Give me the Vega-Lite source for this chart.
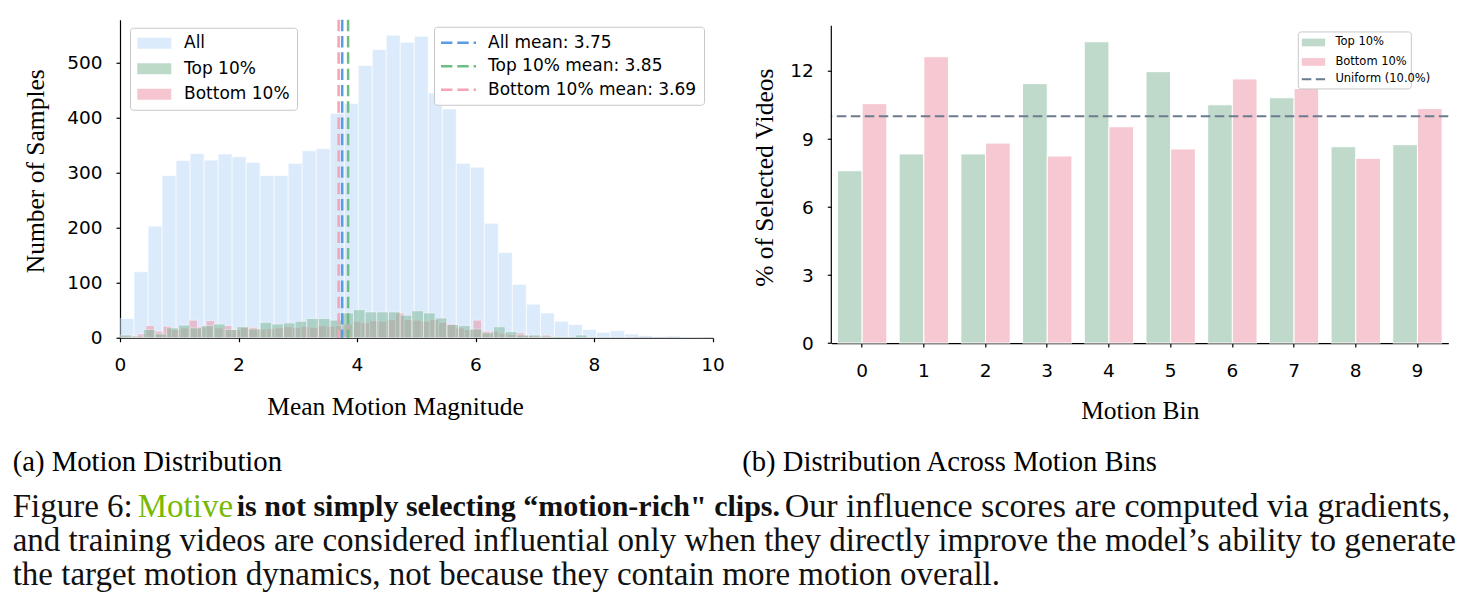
{
  "$schema": "https://vega.github.io/schema/vega-lite/v6.json",
  "background": "white",
  "padding": {"left": 12, "top": 17.75, "right": 4, "bottom": 4},
  "autosize": {"type": "pad"},
  "spacing": 118.3,
  "bounds": "flush",
  "align": "none",
  "config": {
    "view": {"stroke": null},
    "axis": {
      "domainColor": "#000000", "domainWidth": 1.2,
      "tickColor": "#000000", "tickWidth": 1.2, "tickSize": 4,
      "labelFont": "DejaVu Sans", "labelFontSize": 18.5, "labelColor": "#000000", "labelPadding": 14,
      "labelFlush": false, "labelOverlap": false,
      "titleFont": "Liberation Serif", "titleFontSize": 25.5, "titleFontWeight": "normal", "titleColor": "#000000",
      "grid": false
    },
    "legend": {"labelFont": "DejaVu Sans", "labelColor": "#000000", "labelLimit": 400, "titleFont": "DejaVu Sans", "titleLimit": 400, "direction": "vertical"}
  },
  "datasets": {
    "hist": [
      {"group": "All", "start": 0, "end": 0.2365, "count": 35},
      {"group": "All", "start": 0.2365, "end": 0.473, "count": 120},
      {"group": "All", "start": 0.473, "end": 0.7095, "count": 203},
      {"group": "All", "start": 0.7095, "end": 0.946, "count": 295},
      {"group": "All", "start": 0.946, "end": 1.1825, "count": 322},
      {"group": "All", "start": 1.1825, "end": 1.419, "count": 335},
      {"group": "All", "start": 1.419, "end": 1.6555, "count": 323},
      {"group": "All", "start": 1.6555, "end": 1.892, "count": 334},
      {"group": "All", "start": 1.892, "end": 2.1285, "count": 329},
      {"group": "All", "start": 2.1285, "end": 2.365, "count": 319},
      {"group": "All", "start": 2.365, "end": 2.6015, "count": 295},
      {"group": "All", "start": 2.6015, "end": 2.838, "count": 295},
      {"group": "All", "start": 2.838, "end": 3.0745, "count": 317},
      {"group": "All", "start": 3.0745, "end": 3.311, "count": 340},
      {"group": "All", "start": 3.311, "end": 3.5475, "count": 344},
      {"group": "All", "start": 3.5475, "end": 3.784, "count": 408},
      {"group": "All", "start": 3.784, "end": 4.0205, "count": 426},
      {"group": "All", "start": 4.0205, "end": 4.257, "count": 495},
      {"group": "All", "start": 4.257, "end": 4.4935, "count": 524},
      {"group": "All", "start": 4.4935, "end": 4.73, "count": 550},
      {"group": "All", "start": 4.73, "end": 4.9665, "count": 537},
      {"group": "All", "start": 4.9665, "end": 5.203, "count": 548},
      {"group": "All", "start": 5.203, "end": 5.4395, "count": 445},
      {"group": "All", "start": 5.4395, "end": 5.676, "count": 416},
      {"group": "All", "start": 5.676, "end": 5.9125, "count": 317},
      {"group": "All", "start": 5.9125, "end": 6.149, "count": 310},
      {"group": "All", "start": 6.149, "end": 6.3855, "count": 208},
      {"group": "All", "start": 6.3855, "end": 6.622, "count": 155},
      {"group": "All", "start": 6.622, "end": 6.8585, "count": 97},
      {"group": "All", "start": 6.8585, "end": 7.095, "count": 61},
      {"group": "All", "start": 7.095, "end": 7.3315, "count": 45},
      {"group": "All", "start": 7.3315, "end": 7.568, "count": 30},
      {"group": "All", "start": 7.568, "end": 7.8045, "count": 24},
      {"group": "All", "start": 7.8045, "end": 8.041, "count": 15},
      {"group": "All", "start": 8.041, "end": 8.2775, "count": 10},
      {"group": "All", "start": 8.2775, "end": 8.514, "count": 13},
      {"group": "All", "start": 8.514, "end": 8.7505, "count": 7},
      {"group": "All", "start": 8.7505, "end": 8.987, "count": 4},
      {"group": "All", "start": 8.987, "end": 9.2235, "count": 2},
      {"group": "All", "start": 9.2235, "end": 9.46, "count": 3},
      {"group": "All", "start": 9.46, "end": 9.6965, "count": 1},
      {"group": "All", "start": 9.6965, "end": 9.933, "count": 1},
      {"group": "All", "start": 9.933, "end": 10.1695, "count": 1},
      {"group": "Bottom 10%", "start": 0, "end": 0.1453, "count": 3},
      {"group": "Bottom 10%", "start": 0.1453, "end": 0.2906, "count": 3},
      {"group": "Bottom 10%", "start": 0.2906, "end": 0.4359, "count": 7},
      {"group": "Bottom 10%", "start": 0.4359, "end": 0.5812, "count": 22},
      {"group": "Bottom 10%", "start": 0.5812, "end": 0.7265, "count": 12},
      {"group": "Bottom 10%", "start": 0.7265, "end": 0.8718, "count": 21},
      {"group": "Bottom 10%", "start": 0.8718, "end": 1.0171, "count": 15},
      {"group": "Bottom 10%", "start": 1.0171, "end": 1.1624, "count": 18},
      {"group": "Bottom 10%", "start": 1.1624, "end": 1.3077, "count": 32},
      {"group": "Bottom 10%", "start": 1.3077, "end": 1.453, "count": 20},
      {"group": "Bottom 10%", "start": 1.453, "end": 1.5983, "count": 31},
      {"group": "Bottom 10%", "start": 1.5983, "end": 1.7436, "count": 18},
      {"group": "Bottom 10%", "start": 1.7436, "end": 1.8889, "count": 22},
      {"group": "Bottom 10%", "start": 1.8889, "end": 2.0342, "count": 15},
      {"group": "Bottom 10%", "start": 2.0342, "end": 2.1795, "count": 19},
      {"group": "Bottom 10%", "start": 2.1795, "end": 2.3248, "count": 19},
      {"group": "Bottom 10%", "start": 2.3248, "end": 2.4701, "count": 16},
      {"group": "Bottom 10%", "start": 2.4701, "end": 2.6154, "count": 17},
      {"group": "Bottom 10%", "start": 2.6154, "end": 2.7607, "count": 18},
      {"group": "Bottom 10%", "start": 2.7607, "end": 2.906, "count": 20},
      {"group": "Bottom 10%", "start": 2.906, "end": 3.0513, "count": 19},
      {"group": "Bottom 10%", "start": 3.0513, "end": 3.1966, "count": 21},
      {"group": "Bottom 10%", "start": 3.1966, "end": 3.3419, "count": 19},
      {"group": "Bottom 10%", "start": 3.3419, "end": 3.4872, "count": 22},
      {"group": "Bottom 10%", "start": 3.4872, "end": 3.6325, "count": 21},
      {"group": "Bottom 10%", "start": 3.6325, "end": 3.7778, "count": 22},
      {"group": "Bottom 10%", "start": 3.7778, "end": 3.9231, "count": 25},
      {"group": "Bottom 10%", "start": 3.9231, "end": 4.0684, "count": 30},
      {"group": "Bottom 10%", "start": 4.0684, "end": 4.2137, "count": 28},
      {"group": "Bottom 10%", "start": 4.2137, "end": 4.359, "count": 31},
      {"group": "Bottom 10%", "start": 4.359, "end": 4.5043, "count": 30},
      {"group": "Bottom 10%", "start": 4.5043, "end": 4.6496, "count": 33},
      {"group": "Bottom 10%", "start": 4.6496, "end": 4.7949, "count": 45},
      {"group": "Bottom 10%", "start": 4.7949, "end": 4.9402, "count": 33},
      {"group": "Bottom 10%", "start": 4.9402, "end": 5.0855, "count": 32},
      {"group": "Bottom 10%", "start": 5.0855, "end": 5.2308, "count": 30},
      {"group": "Bottom 10%", "start": 5.2308, "end": 5.3761, "count": 33},
      {"group": "Bottom 10%", "start": 5.3761, "end": 5.5214, "count": 28},
      {"group": "Bottom 10%", "start": 5.5214, "end": 5.6667, "count": 25},
      {"group": "Bottom 10%", "start": 5.6667, "end": 5.812, "count": 18},
      {"group": "Bottom 10%", "start": 5.812, "end": 5.9573, "count": 15},
      {"group": "Bottom 10%", "start": 5.9573, "end": 6.1026, "count": 32},
      {"group": "Bottom 10%", "start": 6.1026, "end": 6.2479, "count": 12},
      {"group": "Bottom 10%", "start": 6.2479, "end": 6.3932, "count": 12},
      {"group": "Bottom 10%", "start": 6.3932, "end": 6.5385, "count": 8},
      {"group": "Bottom 10%", "start": 6.5385, "end": 6.6838, "count": 6},
      {"group": "Bottom 10%", "start": 6.6838, "end": 6.8291, "count": 9},
      {"group": "Bottom 10%", "start": 6.8291, "end": 6.9744, "count": 4},
      {"group": "Bottom 10%", "start": 6.9744, "end": 7.1197, "count": 3},
      {"group": "Bottom 10%", "start": 7.1197, "end": 7.265, "count": 5},
      {"group": "Top 10%", "start": 0, "end": 0.197, "count": 5},
      {"group": "Top 10%", "start": 0.197, "end": 0.394, "count": 3},
      {"group": "Top 10%", "start": 0.394, "end": 0.591, "count": 15},
      {"group": "Top 10%", "start": 0.591, "end": 0.788, "count": 7},
      {"group": "Top 10%", "start": 0.788, "end": 0.985, "count": 18},
      {"group": "Top 10%", "start": 0.985, "end": 1.182, "count": 23},
      {"group": "Top 10%", "start": 1.182, "end": 1.379, "count": 18},
      {"group": "Top 10%", "start": 1.379, "end": 1.576, "count": 22},
      {"group": "Top 10%", "start": 1.576, "end": 1.773, "count": 25},
      {"group": "Top 10%", "start": 1.773, "end": 1.97, "count": 15},
      {"group": "Top 10%", "start": 1.97, "end": 2.167, "count": 20},
      {"group": "Top 10%", "start": 2.167, "end": 2.364, "count": 16},
      {"group": "Top 10%", "start": 2.364, "end": 2.561, "count": 28},
      {"group": "Top 10%", "start": 2.561, "end": 2.758, "count": 25},
      {"group": "Top 10%", "start": 2.758, "end": 2.955, "count": 27},
      {"group": "Top 10%", "start": 2.955, "end": 3.152, "count": 30},
      {"group": "Top 10%", "start": 3.152, "end": 3.349, "count": 35},
      {"group": "Top 10%", "start": 3.349, "end": 3.546, "count": 35},
      {"group": "Top 10%", "start": 3.546, "end": 3.743, "count": 32},
      {"group": "Top 10%", "start": 3.743, "end": 3.94, "count": 45},
      {"group": "Top 10%", "start": 3.94, "end": 4.137, "count": 51},
      {"group": "Top 10%", "start": 4.137, "end": 4.334, "count": 47},
      {"group": "Top 10%", "start": 4.334, "end": 4.531, "count": 47},
      {"group": "Top 10%", "start": 4.531, "end": 4.728, "count": 47},
      {"group": "Top 10%", "start": 4.728, "end": 4.925, "count": 41},
      {"group": "Top 10%", "start": 4.925, "end": 5.122, "count": 49},
      {"group": "Top 10%", "start": 5.122, "end": 5.319, "count": 45},
      {"group": "Top 10%", "start": 5.319, "end": 5.516, "count": 36},
      {"group": "Top 10%", "start": 5.516, "end": 5.713, "count": 24},
      {"group": "Top 10%", "start": 5.713, "end": 5.91, "count": 22},
      {"group": "Top 10%", "start": 5.91, "end": 6.107, "count": 16},
      {"group": "Top 10%", "start": 6.107, "end": 6.304, "count": 9},
      {"group": "Top 10%", "start": 6.304, "end": 6.501, "count": 20},
      {"group": "Top 10%", "start": 6.501, "end": 6.698, "count": 11},
      {"group": "Top 10%", "start": 6.698, "end": 6.895, "count": 5},
      {"group": "Top 10%", "start": 6.895, "end": 7.092, "count": 5},
      {"group": "Top 10%", "start": 7.092, "end": 7.289, "count": 3},
      {"group": "Top 10%", "start": 7.289, "end": 7.486, "count": 2},
      {"group": "Top 10%", "start": 7.486, "end": 7.683, "count": 2},
      {"group": "Top 10%", "start": 7.683, "end": 7.88, "count": 5},
      {"group": "Top 10%", "start": 7.88, "end": 8.077, "count": 1},
      {"group": "Top 10%", "start": 8.077, "end": 8.274, "count": 1},
      {"group": "Top 10%", "start": 8.274, "end": 8.471, "count": 1},
      {"group": "Top 10%", "start": 8.471, "end": 8.668, "count": 1},
      {"group": "Top 10%", "start": 9.456, "end": 9.653, "count": 1},
      {"group": "Top 10%", "start": 9.653, "end": 9.85, "count": 1}
    ],
    "means": [
      {"label": "All mean: 3.75", "mean": 3.75},
      {"label": "Top 10% mean: 3.85", "mean": 3.85},
      {"label": "Bottom 10% mean: 3.69", "mean": 3.69}
    ],
    "bins": [
      {"bin": 0, "group": "Top 10%", "pct": 7.6},
      {"bin": 0, "group": "Bottom 10%", "pct": 10.56},
      {"bin": 1, "group": "Top 10%", "pct": 8.34},
      {"bin": 1, "group": "Bottom 10%", "pct": 12.63},
      {"bin": 2, "group": "Top 10%", "pct": 8.34},
      {"bin": 2, "group": "Bottom 10%", "pct": 8.82},
      {"bin": 3, "group": "Top 10%", "pct": 11.44},
      {"bin": 3, "group": "Bottom 10%", "pct": 8.25},
      {"bin": 4, "group": "Top 10%", "pct": 13.29},
      {"bin": 4, "group": "Bottom 10%", "pct": 9.54},
      {"bin": 5, "group": "Top 10%", "pct": 11.97},
      {"bin": 5, "group": "Bottom 10%", "pct": 8.56},
      {"bin": 6, "group": "Top 10%", "pct": 10.51},
      {"bin": 6, "group": "Bottom 10%", "pct": 11.65},
      {"bin": 7, "group": "Top 10%", "pct": 10.82},
      {"bin": 7, "group": "Bottom 10%", "pct": 11.23},
      {"bin": 8, "group": "Top 10%", "pct": 8.66},
      {"bin": 8, "group": "Bottom 10%", "pct": 8.15},
      {"bin": 9, "group": "Top 10%", "pct": 8.75},
      {"bin": 9, "group": "Bottom 10%", "pct": 10.34}
    ],
    "uniform": [
      {"label": "Uniform (10.0%)", "pct": 10}
    ]
  },
  "hconcat": [
    {
      "width": 592.5,
      "height": 318,
      "layer": [
        {
          "data": {"name": "hist"},
          "mark": {"type": "bar", "stroke": "#ffffff", "strokeWidth": 0.7, "opacity": 0.5, "clip": true},
          "encoding": {
            "x": {
              "field": "start", "type": "quantitative",
              "scale": {"domain": [0, 10], "nice": false, "zero": false},
              "axis": {"values": [0, 2, 4, 6, 8, 10], "format": "d", "title": "Mean Motion Magnitude",
                       "titleX": 275, "titleY": 69, "titleAlign": "center", "titleBaseline": "middle"}
            },
            "x2": {"field": "end"},
            "y": {
              "field": "count", "type": "quantitative", "stack": null,
              "scale": {"domain": [0, 578], "nice": false},
              "axis": {"values": [0, 100, 200, 300, 400, 500], "format": "d", "title": "Number of Samples",
                       "titleX": -84.3, "titleY": 151, "titleAngle": -90, "titleAlign": "center", "titleBaseline": "middle"}
            },
            "y2": {"datum": 0},
            "fill": {
              "field": "group", "type": "nominal",
              "scale": {"domain": ["All", "Top 10%", "Bottom 10%"], "range": ["#B9D7F9", "#7BB593", "#ED8DA1"]},
              "legend": {
                "title": null, "orient": "none", "legendX": 10, "legendY": 8, "zindex": 1,
                "symbolType": "M-1.1,-0.745H3.433V0.745H-1.1Z", "symbolSize": 225, "symbolOpacity": 0.5,
                "symbolStrokeWidth": 0, "symbolStrokeColor": "transparent",
                "labelFontSize": 17, "labelOffset": 30, "rowPadding": 7.5, "padding": 7,
                "fillColor": "rgba(255,255,255,0.88)", "strokeColor": "#c8c8c8", "cornerRadius": 3
              }
            }
          }
        },
        {
          "data": {"name": "means"},
          "mark": {"type": "rule", "strokeWidth": 2.5, "strokeDash": [11.4, 4.9]},
          "encoding": {
            "x": {"field": "mean", "type": "quantitative"},
            "stroke": {
              "field": "label", "type": "nominal",
              "scale": {"domain": ["All mean: 3.75", "Top 10% mean: 3.85", "Bottom 10% mean: 3.69"], "range": ["#5A9BE6", "#6EBD84", "#F5A3B5"]},
              "legend": {
                "title": null, "orient": "none", "legendX": 314, "legendY": 7, "zindex": 1,
                "symbolType": "M-1.2,0H3.467", "symbolSize": 225, "symbolStrokeWidth": 2.5, "symbolDash": [11.4, 4.9],
                "symbolFillColor": "transparent",
                "labelFontSize": 17, "labelOffset": 29, "rowPadding": 6.5, "padding": 7,
                "fillColor": "rgba(255,255,255,0.88)", "strokeColor": "#c8c8c8", "cornerRadius": 3
              }
            }
          }
        },
        {
          "data": {"values": [{}]},
          "mark": {"type": "text", "text": "(a) Motion Distribution", "x": -107.3, "y": 442, "align": "left", "baseline": "middle",
                   "font": "Liberation Serif", "fontSize": 28.7, "color": "#000000"},
          "encoding": {}
        },
        {
          "data": {"values": [{}]},
          "mark": {"type": "text", "text": "Figure 6:", "x": -107.3, "y": 487, "align": "left", "baseline": "middle",
                   "font": "Liberation Serif", "fontSize": 33, "color": "#111111"},
          "encoding": {}
        },
        {
          "data": {"values": [{}]},
          "mark": {"type": "text", "text": "Motive", "x": 17.7, "y": 487, "align": "left", "baseline": "middle",
                   "font": "Liberation Serif", "fontSize": 33, "color": "#76B900"},
          "encoding": {}
        },
        {
          "data": {"values": [{}]},
          "mark": {"type": "text", "text": "is not simply selecting “motion-rich\" clips.", "x": 116.7, "y": 487, "align": "left", "baseline": "middle",
                   "font": "Liberation Serif", "fontSize": 30, "fontWeight": "bold", "color": "#111111"},
          "encoding": {}
        },
        {
          "data": {"values": [{}]},
          "mark": {"type": "text", "text": "Our influence scores are computed via gradients,", "x": 664.7, "y": 487, "align": "left", "baseline": "middle",
                   "font": "Liberation Serif", "fontSize": 34, "color": "#111111"},
          "encoding": {}
        },
        {
          "data": {"values": [{}]},
          "mark": {"type": "text", "text": "and training videos are considered influential only when they directly improve the model’s ability to generate", "x": -107.3, "y": 521, "align": "left", "baseline": "middle",
                   "font": "Liberation Serif", "fontSize": 33, "color": "#111111"},
          "encoding": {}
        },
        {
          "data": {"values": [{}]},
          "mark": {"type": "text", "text": "the target motion dynamics, not because they contain more motion overall.", "x": -107.3, "y": 555, "align": "left", "baseline": "middle",
                   "font": "Liberation Serif", "fontSize": 33, "color": "#111111"},
          "encoding": {}
        }
      ]
    },
    {
      "width": 617,
      "height": 323.3,
      "layer": [
        {
          "data": {"name": "bins"},
          "mark": {"type": "bar", "stroke": "#ffffff", "strokeWidth": 1},
          "encoding": {
            "x": {
              "field": "bin", "type": "ordinal",
              "scale": {"paddingInner": 0.2, "paddingOuter": 0.1},
              "axis": {"labelAngle": 0, "title": "Motion Bin", "titleX": 308.5, "titleY": 67.7, "titleAlign": "center", "titleBaseline": "middle"}
            },
            "xOffset": {"field": "group", "type": "nominal", "scale": {"domain": ["Top 10%", "Bottom 10%"]}},
            "y": {
              "field": "pct", "type": "quantitative", "stack": null,
              "scale": {"domain": [0, 14.26], "nice": false},
              "axis": {"values": [0, 3, 6, 9, 12], "domain": false, "title": "% of Selected Videos",
                       "titleX": -67, "titleY": 157.5, "titleAngle": -90, "titleAlign": "center", "titleBaseline": "middle"}
            },
            "color": {
              "field": "group", "type": "nominal",
              "scale": {"domain": ["Top 10%", "Bottom 10%"], "range": ["#BFD9CB", "#F6C8D1"]},
              "legend": {
                "title": "\u00a0\u00a0\u00a0\u00a0\u00a0\u00a0\u00a0\u00a0\u00a0\u00a0\u00a0\u00a0\u00a0\u00a0\u00a0\u00a0\u00a0\u00a0\u00a0\u00a0\u00a0\u00a0\u00a0\u00a0\u00a0\u00a0\u00a0\u00a0\u00a0\u00a0\u00a0\u00a0\u00a0\u00a0\u00a0\u00a0",
                "titleOrient": "bottom", "titleFontSize": 12, "titlePadding": 3.5,
                "orient": "none", "legendX": 1177.8, "legendY": 11.7, "zindex": 1,
                "symbolType": "M-1.217,-0.67H2.835V0.67H-1.217Z", "symbolSize": 132.25,
                "symbolStrokeWidth": 2, "symbolStrokeColor": "transparent", "symbolOpacity": 1,
                "labelFontSize": 11.5, "labelOffset": 19.6, "rowPadding": 3.5, "padding": 4,
                "fillColor": "rgba(255,255,255,0.9)", "strokeColor": "#c8c8c8", "cornerRadius": 3
              }
            }
          }
        },
        {
          "data": {"name": "uniform"},
          "mark": {"type": "rule", "color": "#6B7B8E", "strokeWidth": 2},
          "encoding": {
            "y": {"field": "pct", "type": "quantitative"},
            "strokeDash": {
              "field": "label", "type": "nominal",
              "scale": {"domain": ["Uniform (10.0%)"], "range": [[9.5, 4.5]]},
              "legend": {
                "title": null, "orient": "none", "legendX": 1177.8, "legendY": 48.5, "zindex": 2,
                "symbolType": "M-1.217,0H2.835", "symbolSize": 132.25, "symbolStrokeWidth": 2,
                "symbolStrokeColor": "#6B7B8E", "symbolFillColor": "transparent",
                "labelFontSize": 11.5, "labelOffset": 19.6, "rowPadding": 3.5, "padding": 4,
                "fillColor": "transparent", "strokeColor": "transparent"
              }
            }
          }
        },
        {
          "data": {"values": [{}]},
          "mark": {"type": "rule", "color": "#000000", "strokeWidth": 1.2},
          "encoding": {"x": {"value": 0}, "y": {"datum": 0}, "y2": {"datum": 14}}
        },
        {
          "data": {"values": [{}]},
          "mark": {"type": "text", "text": "(b) Distribution Across Motion Bins", "x": -89, "y": 442, "align": "left", "baseline": "middle",
                   "font": "Liberation Serif", "fontSize": 28.6, "color": "#000000"},
          "encoding": {}
        }
      ]
    }
  ]
}
